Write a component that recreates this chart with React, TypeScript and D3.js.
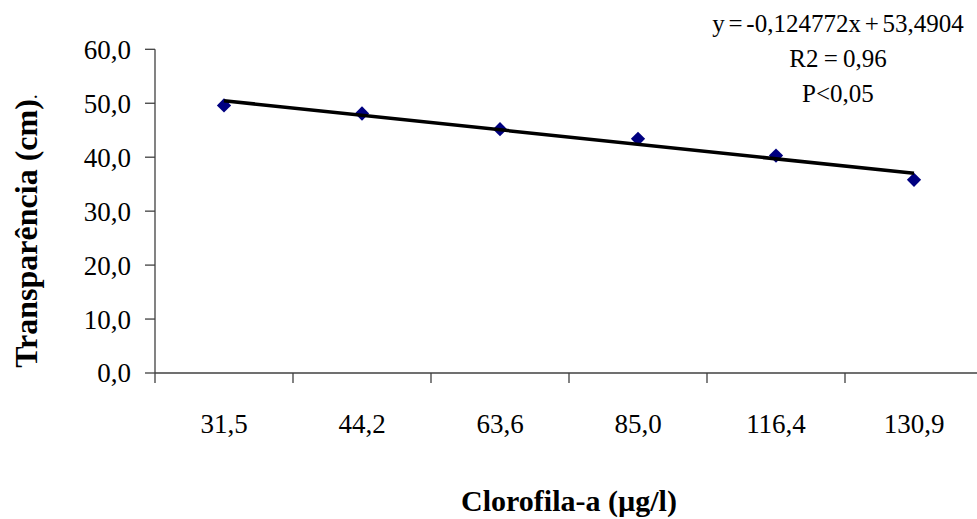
import React from "react";
import * as d3 from "d3";

const categories: string[] = ["31,5", "44,2", "63,6", "85,0", "116,4", "130,9"];
const transparencia: number[] = [49.6, 48.1, 45.2, 43.4, 40.3, 35.8];
const yTicks: number[] = [0, 10, 20, 30, 40, 50, 60];
const annotation: string[] = ["y = -0,124772x + 53,4904", "R2 = 0,96", "P<0,05"];
const xTitle = "Clorofila-a (µg/l)";
const yTitle = "Transparência (cm)";

const W = 977;
const H = 519;
const FONT = "Liberation Serif";

export default function App() {
  const x = d3.scaleBand<string>().domain(categories).range([155, 983]).padding(0);
  const y = d3.scaleLinear().domain([0, 60]).range([373, 49.3]);
  const cx = (c: string) => (x(c) as number) + x.bandwidth() / 2;

  // linear regression on category index (Excel-style trendline)
  const idx = categories.map((_, i) => i + 1);
  const mx = d3.mean(idx) as number;
  const my = d3.mean(transparencia) as number;
  const sxy = d3.sum(idx.map((v, i) => (v - mx) * (transparencia[i] - my)));
  const sxx = d3.sum(idx.map((v) => (v - mx) * (v - mx)));
  const slope = sxy / sxx;
  const intercept = my - slope * mx;
  const trend = categories.map((c, i) => [cx(c), y(intercept + slope * (i + 1))] as [number, number]);
  const line = d3.line();
  const ends = [trend[0], trend[trend.length - 1]];

  const diamond = d3.symbol().type(d3.symbolDiamond2).size(130)();
  const fmt = (v: number) => v.toFixed(1).replace(".", ",");

  const ticksX = categories.map((c) => x(c) as number).concat([x.range()[1]]);
  const ts = { fontFamily: FONT } as React.CSSProperties;

  return (
    <svg width={W} height={H} style={{ position: "absolute", left: 0, top: 0, background: "#fff" }}>
      {/* y axis */}
      <line x1={155} x2={155} y1={y(60)} y2={y(0)} stroke="#404040" strokeWidth={1.3} />
      {yTicks.map((t) => (
        <g key={t}>
          <line x1={145} x2={155} y1={y(t)} y2={y(t)} stroke="#404040" strokeWidth={1.3} />
          <text x={131} y={y(t)} dy="0.35em" textAnchor="end" fontSize={27} fill="#000" style={ts}>
            {fmt(t)}
          </text>
        </g>
      ))}
      {/* x axis */}
      <line x1={155} x2={983} y1={y(0)} y2={y(0)} stroke="#404040" strokeWidth={1.3} />
      {ticksX.map((t, i) => (
        <line key={i} x1={t} x2={t} y1={y(0)} y2={y(0) + 10} stroke="#404040" strokeWidth={1.3} />
      ))}
      {categories.map((c) => (
        <text key={c} x={cx(c)} y={433} textAnchor="middle" fontSize={27} fill="#000" style={ts}>
          {c}
        </text>
      ))}
      {/* points */}
      {categories.map((c, i) => (
        <path key={c} d={diamond as string} transform={`translate(${cx(c)},${y(transparencia[i])})`} fill="#000080" />
      ))}
      {/* trendline */}
      <path d={line(ends) as string} fill="none" stroke="#000" strokeWidth={3.5} />
      {/* annotation */}
      {annotation.map((a, i) => (
        <text
          key={i}
          x={838}
          y={32 + i * 35}
          textAnchor="middle"
          fontSize={25}
          fill="#000"
          style={{ ...ts, wordSpacing: i === 0 ? "-2.5px" : "-1px" }}
        >
          {a}
        </text>
      ))}
      {/* titles */}
      <text x={569} y={511} textAnchor="middle" fontSize={30} fontWeight="bold" fill="#000" style={ts}>
        {xTitle}
      </text>
      <text
        transform={`translate(37,231) rotate(-90)`}
        textAnchor="middle"
        fontSize={32}
        fontWeight="bold"
        fill="#000"
        style={ts}
      >
        {yTitle}
        <tspan fontWeight="normal" fontSize={20}>.</tspan>
      </text>
    </svg>
  );
}
